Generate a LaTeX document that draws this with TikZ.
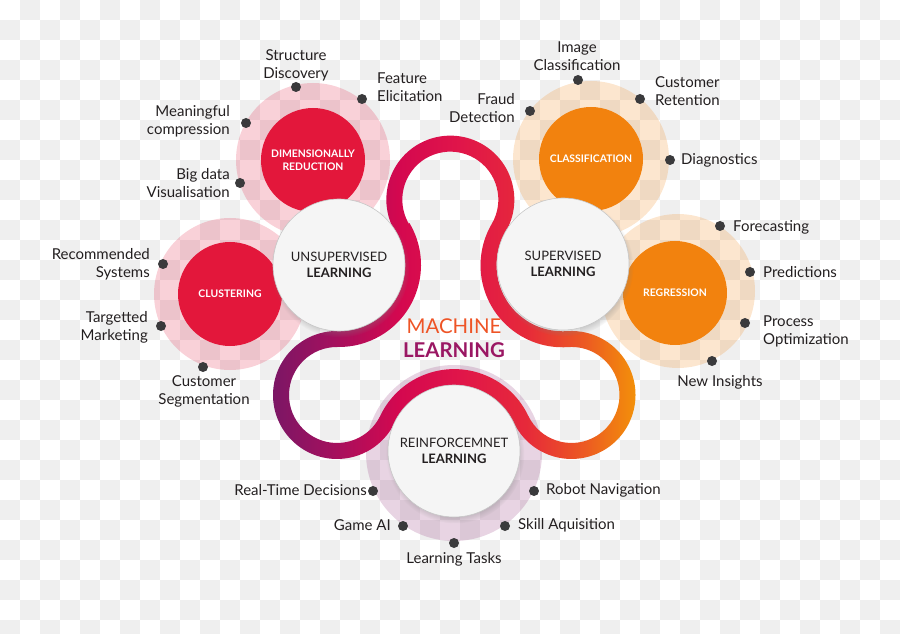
\documentclass[tikz,border=0pt]{standalone}
\usepackage{fontspec}
\setmainfont{Lato}
\usepackage{xcolor}
\usepackage{tikz}
\usetikzlibrary{positioning,calc,shadows,fadings}

\definecolor{ink}{HTML}{231F20}
\definecolor{dotgrey}{HTML}{3A3A3C}
\definecolor{chk}{HTML}{EFEFEF}
\definecolor{mlred}{HTML}{E3173B}
\definecolor{mlorange}{HTML}{F2820E}
\definecolor{mlplum}{HTML}{8C2A74}
\definecolor{corefill}{HTML}{F5F5F5}
\definecolor{rbpurple}{HTML}{7B1665}
\definecolor{rbplum}{HTML}{A3105E}
\definecolor{rbcrimson}{HTML}{D4084F}
\definecolor{rbred}{HTML}{E0154A}
\definecolor{rbscarlet}{HTML}{E6293A}
\definecolor{rbflame}{HTML}{EC5A22}
\definecolor{rbamber}{HTML}{F49A05}
\definecolor{mlmach}{HTML}{EE5426}
\definecolor{mllearn}{HTML}{9A1763}

\pgfdeclarehorizontalshading{ribbonshade}{100bp}{color(0bp)=(rbpurple); color(25bp)=(rbpurple);
  color(33bp)=(rbplum); color(42bp)=(rbcrimson); color(50bp)=(rbred); color(59bp)=(rbscarlet);
  color(67bp)=(rbflame); color(75bp)=(rbamber); color(100bp)=(rbamber)}

\begin{document}
\begin{tikzpicture}[
  x=1pt, y=1pt,
  core/.style={circle, draw=black!22, line width=0.6pt, fill=corefill, text=ink,
               minimum size=132pt, inner sep=0pt, align=center,
               font=\fontsize{13}{16.5}\selectfont,
               circular drop shadow={shadow xshift=1pt, shadow yshift=-3pt, shadow scale=1.05, opacity=0.45}},
  topic/.style={circle, minimum size=104pt, inner sep=0pt, align=center, text=white,
                font=\fontsize{10.4}{13.5}\selectfont\bfseries},
  halo/.style={circle, inner sep=0pt, fill opacity=0.2},
  dot/.style={circle, fill=dotgrey, minimum size=10pt, inner sep=0pt},
  lbl/.style={font=\fontsize{15}{18}\selectfont, text=ink, inner sep=0pt},
]
\useasboundingbox (0,0) rectangle (900,633);

% checker background
\begin{scope}
  \clip (0,0) rectangle (900,633);
  \foreach \j in {0,...,31}{
    \pgfmathtruncatemacro\a{1-mod(\j,2)}
    \pgfmathtruncatemacro\b{\a+2}
    \foreach \i in {\a,\b,...,44}
      \fill[chk] (20*\i,633-20*\j) rectangle ++(20,-20);
  }
\end{scope}

% halos
\node[halo, fill=mlred,    minimum size=154pt] (dimredh)  at (313,473) {};
\node[halo, fill=mlred,    minimum size=152pt] (clusth)   at (230,339) {};
\node[halo, fill=mlorange, minimum size=156pt] (classifh) at (591,474) {};
\node[halo, fill=mlorange, minimum size=154pt] (regrh)    at (678,342) {};
\node[halo, fill=mlplum,   minimum size=176pt] (reinfh)   at (454,180) {};

% topics
\node[topic, fill=mlred]    (dimred)  at (313,473) {DIMENSIONALLY\\REDUCTION};
\node[topic, fill=mlred]    (clust)   at (230,339) {CLUSTERING};
\node[topic, fill=mlorange] (classif) at (591,474) {CLASSIFICATION};
\node[topic, fill=mlorange] (regr)    at (675,340) {REGRESSION};

% ribbon
\coordinate (uc) at (339,368);
\shade[shading=ribbonshade, even odd rule]
  ($(uc)+(30.7:82)$)
    arc[start angle=30.7,   end angle=-90.88, radius=82]
    arc[start angle=89.12,  end angle=334.42, radius=48]
    arc[start angle=154.42, end angle=25.59,  radius=82]
    arc[start angle=205.59, end angle=453.95, radius=48]
    arc[start angle=273.95, end angle=149.68, radius=82]
    arc[start angle=-30.32, end angle=210.70, radius=48] -- cycle
  ($(uc)+(30.7:66)$)
    arc[start angle=30.7,   end angle=-90.88, radius=66]
    arc[start angle=89.12,  end angle=334.42, radius=64]
    arc[start angle=154.42, end angle=25.59,  radius=66]
    arc[start angle=205.59, end angle=453.95, radius=64]
    arc[start angle=273.95, end angle=149.68, radius=66]
    arc[start angle=-30.32, end angle=210.70, radius=64] -- cycle;

% main circles
\node[core] (unsup) at (339,368) {UNSUPERVISED\\\textbf{LEARNING}};
\node[core] (sup)   at (563,369) {SUPERVISED\\\textbf{LEARNING}};
\node[core] (reinf) at (454,182) {REINFORCEMNET\\\textbf{LEARNING}};

\node[font=\fontsize{20.4}{24}\selectfont, text=mlmach] (mach) at (454,307) {MACHINE};
\node[font=\fontsize{20.4}{24}\selectfont\bfseries, text=mllearn] (learn) at (454,283) {LEARNING};

% dots
\node[dot] (dsd) at (296,546) {};
\node[dot] (dfe) at (362,534) {};
\node[dot] (dmc) at (246,510) {};
\node[dot] (dbd) at (240,450) {};
\node[dot] (drs) at (163,369) {};
\node[dot] (dtm) at (161,307) {};
\node[dot] (dcs) at (203,266) {};
\node[dot] (dic) at (578,553) {};
\node[dot] (dfd) at (530,522) {};
\node[dot] (dcr) at (640,534) {};
\node[dot] (ddg) at (670,473) {};
\node[dot] (dfc) at (720,407) {};
\node[dot] (dpr) at (750,361) {};
\node[dot] (dpo) at (745,310) {};
\node[dot] (dni) at (712,272) {};
\node[dot] (drt) at (373,142) {};
\node[dot] (dga) at (403,107) {};
\node[dot] (dlt) at (454,90)  {};
\node[dot] (dsa) at (505,107) {};
\node[dot] (drn) at (534,142) {};

% labels
\node[lbl, align=center] (sd) at (296,568) {Structure\\Discovery};
\node[lbl, align=left, anchor=west] (fe) at (377,546) {Feature\\Elicitation};
\node[lbl, align=right, anchor=east] (mc) at (230,512) {Meaningful\\compression};
\node[lbl, align=right, anchor=east] (bd) at (230,450) {Big data\\Visualisation};
\node[lbl, align=right, anchor=east] (rs) at (150,369) {Recommended\\Systems};
\node[lbl, align=right, anchor=east] (tm) at (148,306) {Targetted\\Marketing};
\node[lbl, align=center] (cs) at (204,242) {Customer\\Segmentation};
\node[lbl, align=center] (ic) at (577,577) {Image\\Classification};
\node[lbl, align=right, anchor=east] (fd) at (515,525) {Fraud\\Detection};
\node[lbl, align=left, anchor=west] (cr) at (655,542) {Customer\\Retention};
\node[lbl, anchor=west] (dg) at (681,473) {Diagnostics};
\node[lbl, anchor=west] (fc) at (733,406) {Forecasting};
\node[lbl, anchor=west] (pr) at (763,361) {Predictions};
\node[lbl, align=left, anchor=west] (po) at (763,302) {Process\\Optimization};
\node[lbl] (ni) at (720,251) {New Insights};
\node[lbl, anchor=east] (rt) at (367,143) {Real-Time Decisions};
\node[lbl, anchor=east] (ga) at (391,108) {Game AI};
\node[lbl] (lt) at (454,74) {Learning Tasks};
\node[lbl, anchor=west] (rn) at (546,143) {Robot Navigation};
\node[lbl, anchor=west] (sa) at (518,108) {Skill Aquisition};
\end{tikzpicture}
\end{document}
